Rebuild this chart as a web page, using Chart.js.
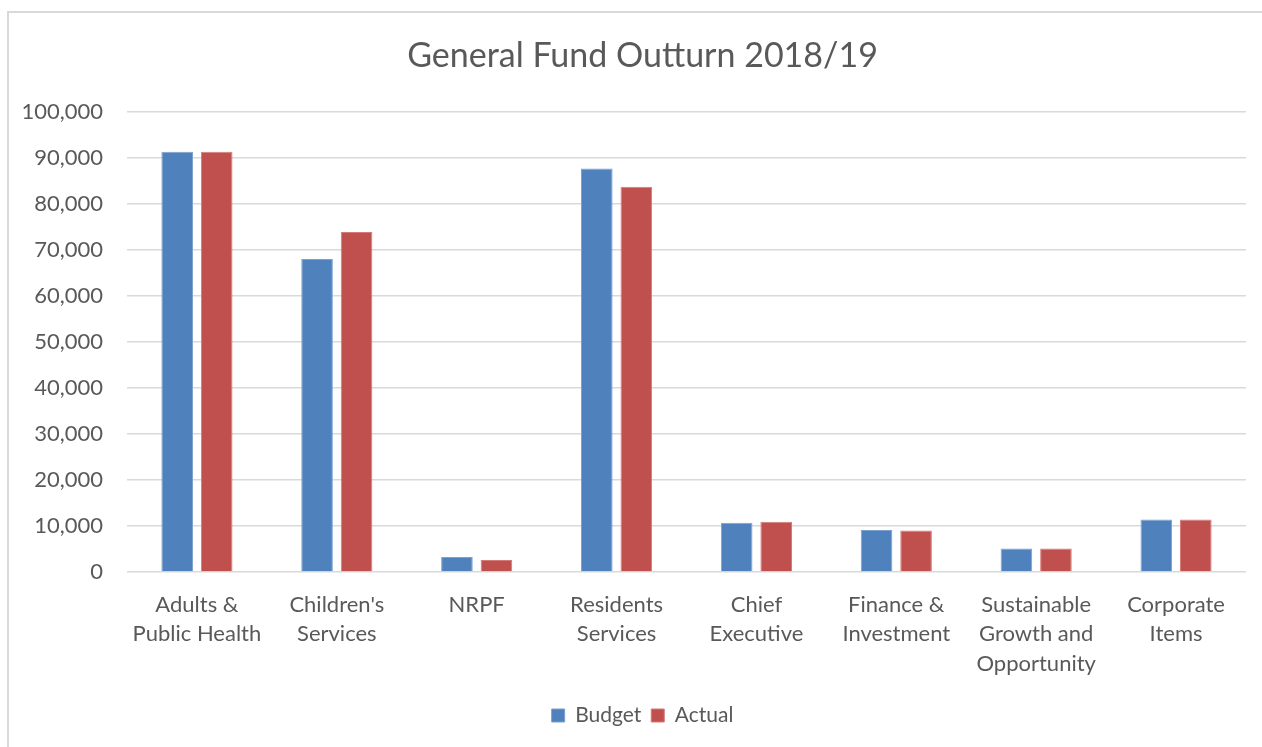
<!DOCTYPE html>
<html>
<head>
<meta charset="utf-8">
<title>General Fund Outturn 2018/19</title>
<script src="https://cdn.jsdelivr.net/npm/chart.js@4"></script>
<style>
  html, body { margin: 0; padding: 0; background: #fff; overflow: hidden; }
  #frame {
    position: absolute; left: 7px; top: 11px; width: 1400px; height: 900px;
    border: 2px solid #d9d9d9; box-sizing: border-box;
  }
  #wrap { position: absolute; left: 0; top: 0; width: 1262px; height: 747px; }
</style>
</head>
<body>
<div id="frame"></div>
<div id="wrap"><canvas id="chart"></canvas></div>
<script>
// ===================== DATA =====================
const categories = [
  ['Adults &', 'Public Health'],
  ["Children's", 'Services'],
  'NRPF',
  ['Residents', 'Services'],
  ['Chief', 'Executive'],
  ['Finance &', 'Investment'],
  ['Sustainable', 'Growth and', 'Opportunity'],
  ['Corporate', 'Items']
];
const budget = [91300, 68000, 3250, 87700, 10700, 9100, 5100, 11400];
const actual = [91300, 73900, 2600, 83700, 10900, 9000, 5100, 11400];
const seriesNames = ['Budget', 'Actual'];
const yTicks = { min: 0, max: 100000, step: 10000 };

// ===================== CHART =====================
const TEXT = '#595959';
const GRID = '#d9d9d9';
Chart.defaults.font.family = "Lato, 'Liberation Sans', sans-serif";
Chart.defaults.color = TEXT;

const ctx = document.getElementById('chart').getContext('2d');
new Chart(ctx, {
  type: 'bar',
  data: {
    labels: categories,
    datasets: [
      {
        label: seriesNames[0], data: budget,
        backgroundColor: '#4f81bd', borderColor: '#7da0cf', borderWidth: 1,
        categoryPercentage: 0.565, barPercentage: 0.8
      },
      {
        label: seriesNames[1], data: actual,
        backgroundColor: '#c0504d', borderColor: '#d57a78', borderWidth: 1,
        categoryPercentage: 0.565, barPercentage: 0.8
      }
    ]
  },
  options: {
    responsive: true,
    maintainAspectRatio: false,
    animation: false,
    // left padding keeps title/legend centred like the original frame
    layout: { padding: { left: 39, right: 16, top: 0, bottom: 11 } },
    plugins: {
      title: {
        display: true,
        text: 'General Fund Outturn 2018/19',
        color: TEXT,
        font: { size: 34, weight: 'normal' },
        padding: { top: 36, bottom: 35 }
      },
      legend: {
        position: 'bottom',
        labels: {
          boxWidth: 13, boxHeight: 13, padding: 10,
          color: TEXT, font: { size: 21 }
        }
      },
      tooltip: { enabled: false }
    },
    scales: {
      x: {
        grid: { display: false, drawTicks: false },
        border: { display: false },
        ticks: {
          color: TEXT, font: { size: 22, lineHeight: 1.34 },
          padding: 18, maxRotation: 0, autoSkip: false
        },
        afterFit: s => { s.height = 123; }
      },
      y: {
        min: yTicks.min, max: yTicks.max,
        grid: { color: GRID, lineWidth: 1.5, drawTicks: false },
        border: { display: false },
        ticks: {
          stepSize: yTicks.step, color: TEXT, font: { size: 22 }, padding: 24,
          callback: v => v.toLocaleString('en-GB')
        },
        afterFit: s => {
          s.width = 88;
          // labels reach into the left padding, so don't clip them to the axis box
          s._computeLabelArea = () => undefined;
        },
        afterUpdate: s => { s._labelArea = undefined; }
      }
    }
  }
});
</script>
</body>
</html>
